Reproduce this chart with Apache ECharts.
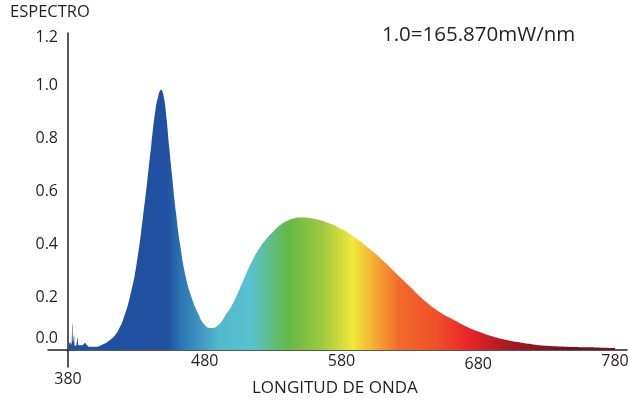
<!DOCTYPE html>
<html>
<head>
<meta charset="utf-8">
<script src="https://cdn.jsdelivr.net/npm/echarts@6/dist/echarts.min.js"></script>
<style>html,body{margin:0;padding:0;background:#fff}#c{width:629px;height:400px}</style>
</head>
<body>
<div id="c"></div>
<script>
var wavelengths = [380.5, 381.5, 382.4, 383.2, 383.8, 384.4, 385.2, 386.2, 387, 387.8, 389, 391, 392.4, 394, 396, 400, 405, 410, 415, 418, 420, 425, 430, 435, 438, 441, 444, 446, 448, 450, 452, 454, 456, 459, 462, 466, 470, 475, 480, 485, 490, 495, 500, 505, 510, 515, 520, 525, 530, 535, 540, 545, 550, 555, 560, 570, 580, 590, 600, 610, 620, 630, 640, 650, 660, 670, 680, 690, 700, 710, 720, 730, 740, 750, 760, 770, 780];
var intensity = [0.0, 0.03, 0.02, 0.10, 0.03, 0.057, 0.015, 0.02, 0.047, 0.018, 0.018, 0.02, 0.027, 0.018, 0.012, 0.012, 0.02, 0.035, 0.06, 0.087, 0.11, 0.195, 0.32, 0.51, 0.64, 0.78, 0.91, 0.96, 0.985, 0.96, 0.88, 0.77, 0.665, 0.52, 0.40, 0.28, 0.205, 0.14, 0.095, 0.083, 0.095, 0.13, 0.17, 0.225, 0.285, 0.34, 0.385, 0.42, 0.448, 0.472, 0.488, 0.498, 0.502, 0.501, 0.497, 0.482, 0.458, 0.425, 0.385, 0.34, 0.29, 0.24, 0.19, 0.15, 0.12, 0.092, 0.07, 0.052, 0.039, 0.029, 0.021, 0.016, 0.013, 0.011, 0.01, 0.009, 0.008];
var xTicks = [380, 480, 580, 680, 780];
var yTicks = [0, 0.2, 0.4, 0.6, 0.8, 1.0, 1.2];
var gradNm = [380, 452, 462, 472, 490, 513, 541, 565, 588, 606, 622, 650, 672, 705, 740, 780];
var gradColors = ['#1f4f9f', '#20509f', '#2a74b2', '#3a8cbc', '#52b8cc', '#58c2d0', '#64b947', '#9cc840', '#f0e83a', '#f4a432', '#f26a2a', '#ef4f2a', '#e8262a', '#a2181f', '#7a1219', '#6e1418'];

var data = wavelengths.map(function (w, i) { return [w, intensity[i]]; });
var stops = gradNm.map(function (n, i) { return { offset: (n - 380) / 400, color: gradColors[i] }; });
var font = 'Open Sans';
var txt = '#231f20';

var chart = echarts.init(document.getElementById('c'), null, { renderer: 'canvas' });
chart.setOption({
  animation: false,
  backgroundColor: '#ffffff',
  title: [
    { text: 'ESPECTRO', left: 10, top: 4, padding: 0, textStyle: { fontFamily: font, fontSize: 16.5, fontWeight: 'normal', color: txt } },
    { text: '1.0=165.870mW/nm', left: 382, top: 25, padding: 0, textStyle: { fontFamily: font, fontSize: 20.5, fontWeight: 'normal', color: txt } },
    { text: 'LONGITUD DE ONDA', left: 252, top: 380, padding: 0, textStyle: { fontFamily: font, fontSize: 17, fontWeight: 'normal', color: txt } }
  ],
  grid: { left: 48, right: 2, top: 33, bottom: 33, containLabel: false, outerBoundsMode: 'none' },
  xAxis: {
    type: 'value', min: 365.4, max: 788.8, offset: -17,
    axisLine: { onZero: false, lineStyle: { color: txt, width: 1.5 } },
    axisTick: { show: false },
    splitLine: { show: false },
    axisLabel: {
      customValues: xTicks, margin: 3, fontFamily: font, fontSize: 16, color: txt,
      formatter: function (v) {
        if (v === 380) return '{d|380}';
        if (v === 680) return '{e|680}';
        return String(v);
      },
      rich: {
        d: { fontFamily: font, fontSize: 16, color: txt, padding: [18, 0, 0, 0] },
        e: { fontFamily: font, fontSize: 16, color: txt, padding: [3, 0, 0, 0] }
      }
    }
  },
  yAxis: {
    type: 'value', min: -0.0643, max: 1.2, offset: -20,
    axisLine: { show: true, onZero: false, lineStyle: { color: txt, width: 1.5 } },
    axisTick: { show: false },
    splitLine: { show: false },
    axisLabel: {
      customValues: yTicks, margin: 10, fontFamily: font, fontSize: 16, color: txt,
      formatter: function (v) {
        if (v === 0) return '{z|0.0}';
        if (v === 1.2) return '{t|1.2}';
        return v.toFixed(1);
      },
      rich: {
        z: { fontFamily: font, fontSize: 16, color: txt, padding: [0, 0, 24, 0] },
        t: { fontFamily: font, fontSize: 16, color: txt, padding: [8, 0, 0, 0] }
      }
    }
  },
  series: [{
    type: 'line', data: data, smooth: 0.5, showSymbol: false,
    lineStyle: { width: 0 },
    areaStyle: { opacity: 1, color: new echarts.graphic.LinearGradient(0, 0, 1, 0, stops) },
    z: 1
  }]
});
</script>
</body>
</html>
